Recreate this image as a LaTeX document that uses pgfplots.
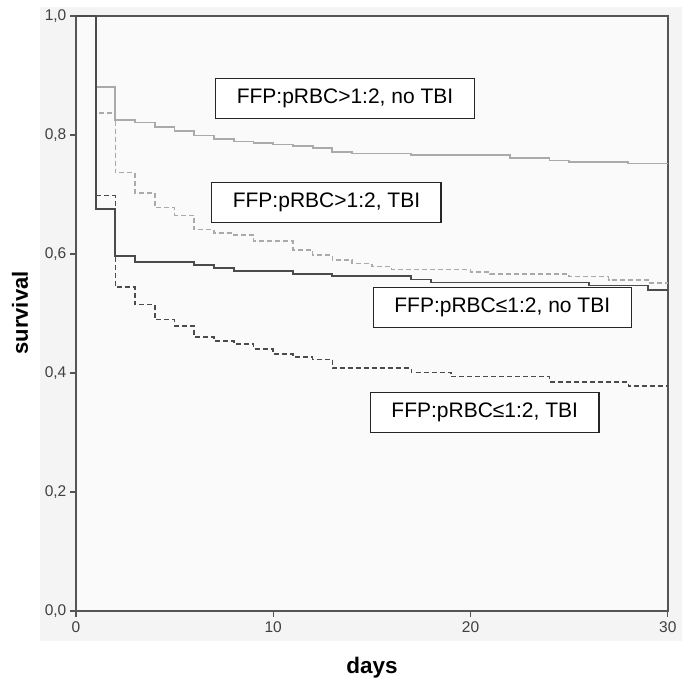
\documentclass[border=0pt]{standalone}
\usepackage{pgfplots}
\pgfplotsset{compat=1.18}
\usepackage{fontspec}
\setmainfont{Liberation Sans}
\definecolor{lightc}{RGB}{170,170,170}
\definecolor{darkc}{RGB}{75,75,75}
\definecolor{outerbg}{RGB}{244,244,244}
\definecolor{innerbg}{RGB}{250,250,250}
\definecolor{axc}{RGB}{85,85,85}
\begin{document}
\begin{tikzpicture}[x=1pt,y=1pt]
\useasboundingbox (-75.9,-79) rectangle (609.1,611);
\fill[outerbg] (-35.9,-30) rectangle (606.1,604);
\begin{axis}[
  at={(0,0)}, anchor=origin,
  width=591.9pt, height=595pt, scale only axis,
  xmin=0, xmax=30, ymin=0, ymax=1,
  axis background/.style={fill=innerbg},
  axis line style={axc, line width=1.5pt},
  xtick={0,10,20,30}, ytick={0,0.2,0.4,0.6,0.8,1.0},
  tick align=outside, tick pos=left,
  major tick length=6pt,
  tick style={axc, line width=1.3pt},
  /pgf/number format/assume math mode=true,
  yticklabel style={/pgf/number format/.cd, use comma, fixed, fixed zerofill, precision=1},
  ticklabel style={font=\fontsize{15.5}{18}\selectfont, text=black!75},
  xticklabel style={yshift=-1pt},
  clip=false,
]
% FFP:pRBC>1:2, no TBI
\addplot[const plot, lightc, line width=1.8pt] coordinates {
(0,1) (1,0.881) (2,0.825) (3,0.821) (4,0.813) (5,0.807) (6,0.799) (7,0.793) (8,0.789) (9,0.787) (10,0.784) (11,0.781) (12,0.778) (13,0.772) (14,0.769) (17,0.766) (22,0.761) (24,0.757) (25,0.755) (28,0.752) (30,0.752)};
% FFP:pRBC>1:2, TBI
\addplot[const plot, lightc, line width=1.6pt, dash pattern=on 5pt off 3pt] coordinates {
(0,1) (1,0.837) (2,0.737) (3,0.703) (4,0.678) (5,0.665) (6,0.641) (7,0.635) (8,0.632) (9,0.622) (11,0.607) (12,0.598) (13,0.590) (14,0.584) (15,0.579) (16,0.574) (20,0.570) (21,0.566) (25,0.562) (27,0.556) (29,0.551) (30,0.551)};
% FFP:pRBC<=1:2, no TBI
\addplot[const plot, darkc, line width=1.8pt] coordinates {
(0,1) (1,0.676) (2,0.597) (3,0.587) (6,0.582) (7,0.577) (8,0.572) (11,0.567) (13,0.563) (17,0.557) (18,0.552) (26,0.547) (29,0.539) (30,0.539)};
% FFP:pRBC<=1:2, TBI
\addplot[const plot, darkc, line width=1.6pt, dash pattern=on 5pt off 3pt] coordinates {
(0,1) (1,0.698) (2,0.545) (3,0.515) (4,0.490) (5,0.479) (6,0.461) (7,0.454) (8,0.449) (9,0.440) (10,0.432) (11,0.427) (12,0.423) (13,0.408) (17,0.401) (19,0.394) (24,0.385) (28,0.378) (30,0.378)};
\tikzset{lbl/.style={draw=black!85, line width=1.3pt, fill=white, font=\fontsize{21}{25}\selectfont, minimum height=40pt, inner xsep=21pt, inner ysep=0pt}}
\node[lbl] at (axis cs:13.64,0.861) {FFP:pRBC>1:2, no TBI};
\node[lbl] at (axis cs:12.70,0.686) {FFP:pRBC>1:2, TBI};
\node[lbl] at (axis cs:21.61,0.510) {FFP:pRBC≤1:2, no TBI};
\node[lbl] at (axis cs:20.72,0.334) {FFP:pRBC≤1:2, TBI};
\end{axis}
\node[rotate=90, font=\fontsize{22}{26}\selectfont\bfseries] at (-55.9,298) {survival};
\node[font=\fontsize{22.5}{26}\selectfont\bfseries] at (296,-57) {days};
\end{tikzpicture}
\end{document}
